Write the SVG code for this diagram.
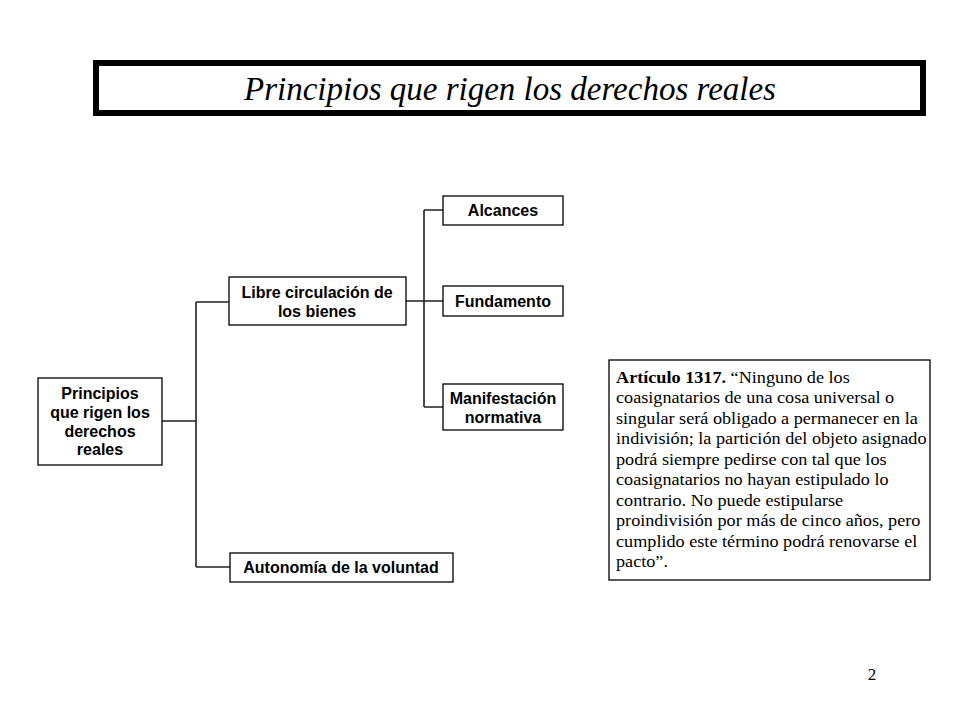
<svg xmlns="http://www.w3.org/2000/svg" width="960" height="720" viewBox="0 0 960 720">
<style>
.box{fill:#fff;stroke:#000;stroke-width:1.3}
.lbl{font-family:"Liberation Sans",Arial,sans-serif;font-weight:bold;font-size:16px;fill:#000;text-anchor:middle}
.conn{fill:none;stroke:#222;stroke-width:1.6}
.body{font-family:"Liberation Serif","Times New Roman",serif;font-size:17px;fill:#000}
</style>
<rect width="960" height="720" fill="#fff"/>
<g id="title">
<rect x="96" y="63" width="827" height="50" fill="#fff" stroke="#000" stroke-width="6"/>
<text x="510" y="100" font-family="Liberation Serif,'Times New Roman',serif" font-style="italic" font-size="33" text-anchor="middle">Principios que rigen los derechos reales</text>
</g>
<g id="connectors">
<path class="conn" d="M162 421 H196 M196 302 V567 M196 302 H229 M196 567 H230"/>
<path class="conn" d="M406 301 H424 M424 210 V407 M424 210 H443 M424 301 H443 M424 407 H443"/>
</g>
<g id="root">
<rect class="box" x="38" y="378" width="124" height="87"/>
<text class="lbl" x="100" y="399">Principios</text>
<text class="lbl" x="100" y="418">que rigen los</text>
<text class="lbl" x="100" y="437">derechos</text>
<text class="lbl" x="100" y="455">reales</text>
</g>
<g id="libre">
<rect class="box" x="229" y="277" width="177" height="48"/>
<text class="lbl" x="317" y="298">Libre circulación de</text>
<text class="lbl" x="317" y="317">los bienes</text>
</g>
<g id="autonomia">
<rect class="box" x="230" y="553" width="223" height="29"/>
<text class="lbl" x="341" y="573">Autonomía de la voluntad</text>
</g>
<g id="alcances">
<rect class="box" x="443" y="196" width="120" height="29"/>
<text class="lbl" x="503" y="216">Alcances</text>
</g>
<g id="fundamento">
<rect class="box" x="443" y="286" width="120" height="30"/>
<text class="lbl" x="503" y="307">Fundamento</text>
</g>
<g id="manifestacion">
<rect class="box" x="443" y="384" width="120" height="46"/>
<text class="lbl" x="503" y="404">Manifestación</text>
<text class="lbl" x="503" y="423">normativa</text>
</g>
<g id="articulo">
<rect class="box" x="609" y="360" width="321" height="220"/>
<g transform="translate(616,0) scale(1.07,1) translate(-616,0)">
<text class="body" x="616" y="383"><tspan font-weight="bold">Artículo 1317.</tspan> “Ninguno de los</text>
<text class="body" x="616" y="403.5">coasignatarios de una cosa universal o</text>
<text class="body" x="616" y="424">singular será obligado a permanecer en la</text>
<text class="body" x="616" y="444.5">indivisión; la partición del objeto asignado</text>
<text class="body" x="616" y="465">podrá siempre pedirse con tal que los</text>
<text class="body" x="616" y="485.5">coasignatarios no hayan estipulado lo</text>
<text class="body" x="616" y="506">contrario. No puede estipularse</text>
<text class="body" x="616" y="526.5">proindivisión por más de cinco años, pero</text>
<text class="body" x="616" y="547">cumplido este término podrá renovarse el</text>
<text class="body" x="616" y="567.5">pacto”.</text>
</g>
</g>
<text x="872" y="680" font-family="Liberation Serif,'Times New Roman',serif" font-size="17" text-anchor="middle">2</text>
</svg>
